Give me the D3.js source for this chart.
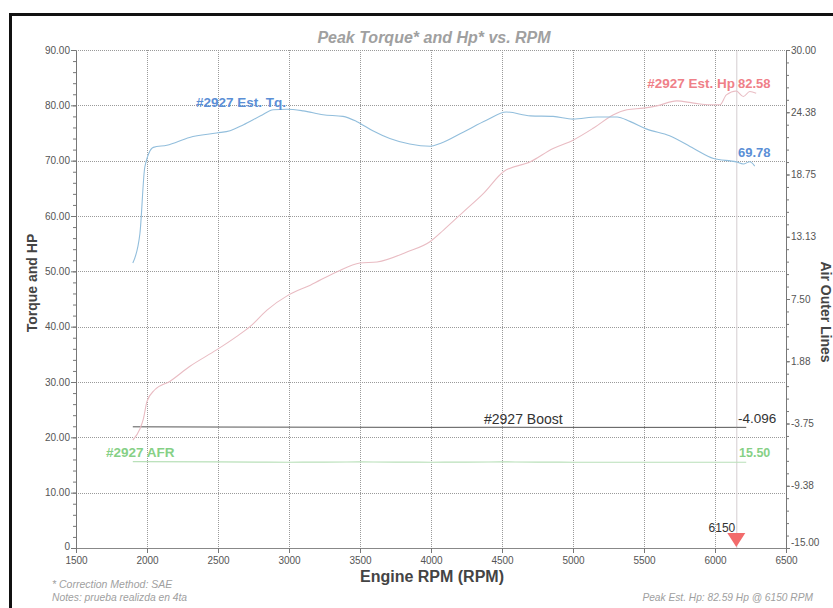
<!DOCTYPE html>
<html>
<head>
<meta charset="utf-8">
<script src="https://cdn.jsdelivr.net/npm/d3@7"></script>
<style>
  html, body { margin: 0; padding: 0; background: #fff; }
  svg { display: block; font-family: "Liberation Sans", Arial, sans-serif; }
</style>
</head>
<body>
<svg id="chart" width="833" height="608"></svg>
<script>
// Dyno run #2927: estimated torque / horsepower, boost and AFR vs. engine speed
const torqueRpm = [1900, 1950, 1985, 2045, 2140, 2300, 2490, 2585, 2680, 2800, 2890, 2985, 3100, 3240, 3380, 3475, 3590, 3710, 3850, 3995, 4065, 4230, 4390, 4530, 4700, 4860, 5000, 5170, 5310, 5400, 5520, 5680, 5850, 5990, 6150, 6200, 6245, 6280];
const torqueVals = [51.5, 56.8, 68.9, 72.4, 72.8, 74.2, 75.0, 75.4, 76.5, 78.1, 79.2, 79.3, 79.0, 78.3, 78.0, 77.1, 75.4, 74.0, 73.0, 72.6, 73.1, 75.2, 77.3, 78.8, 78.1, 78.0, 77.5, 77.9, 77.9, 77.1, 75.7, 74.5, 72.2, 70.4, 69.78, 69.4, 69.8, 69.0];

const hpRpm = [1900, 1950, 1975, 2000, 2055, 2160, 2300, 2490, 2630, 2725, 2845, 2995, 3150, 3335, 3500, 3620, 3830, 3995, 4090, 4230, 4370, 4510, 4700, 4860, 5000, 5145, 5285, 5380, 5495, 5590, 5730, 5850, 5965, 6035, 6080, 6150, 6200, 6245, 6290];
const hpVals = [19.5, 21.5, 23.4, 26.5, 28.6, 30.1, 32.8, 35.8, 38.2, 40.0, 43.0, 45.7, 47.5, 49.9, 51.5, 51.7, 53.5, 55.4, 57.5, 60.8, 64.1, 68.0, 69.8, 72.2, 73.7, 75.9, 78.3, 79.2, 79.5, 79.9, 80.8, 80.4, 80.1, 80.1, 81.9, 82.58, 81.6, 82.5, 82.2];

const boostRpm = [1900, 2500, 3000, 3500, 4000, 4500, 5000, 5500, 6000, 6150, 6220];
const boostVals = [-4.05, -4.07, -4.08, -4.09, -4.10, -4.09, -4.10, -4.10, -4.10, -4.096, -4.10];

const afrRpm = [1900, 2500, 3000, 3500, 4000, 4500, 5000, 5500, 6000, 6150, 6220];
const afrVals = [15.6, 15.55, 15.5, 15.55, 15.5, 15.55, 15.5, 15.5, 15.5, 15.50, 15.5];

const xTicks = [1500, 2000, 2500, 3000, 3500, 4000, 4500, 5000, 5500, 6000, 6500];
const leftTicks = [0, 10, 20, 30, 40, 50, 60, 70, 80, 90];
const leftTickLabels = ["0", "10.00", "20.00", "30.00", "40.00", "50.00", "60.00", "70.00", "80.00", "90.00"];
const rightTicks = [-15, -9.375, -3.75, 1.875, 7.5, 13.125, 18.75, 24.375, 30];
const rightTickLabels = ["-15.00", "-9.38", "-3.75", "1.88", "7.50", "13.13", "18.75", "24.38", "30.00"];

const peakRpm = 6150;
const peakHp = 82.59;

const svg = d3.select("#chart");
const W = 833, H = 608;
const m = { left: 76, right: 786, top: 50, bottom: 548 };

svg.append("rect").attr("width", W).attr("height", H).attr("fill", "#fff");

const x = d3.scaleLinear().domain([1500, 6500]).range([m.left, m.right]);
const yL = d3.scaleLinear().domain([0, 90]).range([m.bottom, m.top]);
const yR = d3.scaleLinear().domain([-15, 30]).range([m.bottom, m.top]);

// outer frame
svg.append("rect")
  .attr("x", 10.5).attr("y", 14.5).attr("width", 840).attr("height", 620)
  .attr("fill", "none").attr("stroke", "#111").attr("stroke-width", 3);

// gridlines
const grid = svg.append("g").attr("stroke", "#9a9a9a").attr("stroke-width", 1)
  .attr("stroke-dasharray", "1,1");
grid.selectAll("line.v").data(xTicks.slice(1, -1)).join("line")
  .attr("x1", d => x(d) + 0.5).attr("x2", d => x(d) + 0.5)
  .attr("y1", m.top).attr("y2", m.bottom);
grid.selectAll("line.h").data(leftTicks.slice(1)).join("line")
  .attr("x1", m.left).attr("x2", m.right)
  .attr("y1", d => Math.round(yL(d)) + 0.5).attr("y2", d => Math.round(yL(d)) + 0.5);

// cursor line at peak rpm
svg.append("line")
  .attr("x1", x(peakRpm) + 0.5).attr("x2", x(peakRpm) + 0.5)
  .attr("y1", m.top).attr("y2", m.bottom)
  .attr("stroke", "#d4cdd0").attr("stroke-width", 1);

// axes
const axisColor = "#777";
const gx = svg.append("g").attr("transform", `translate(0,${m.bottom})`)
  .call(d3.axisBottom(x).tickValues(d3.range(1500, 6501, 100)).tickSize(3).tickFormat(""));
gx.call(d3.axisBottom(x).tickValues(xTicks).tickSize(5).tickFormat(d3.format("d")));
gx.selectAll("path, line").attr("stroke", axisColor);
gx.selectAll("text").attr("fill", "#555").attr("font-size", 10).attr("dy", "0.9em")
  .attr("transform", "translate(0,-1)");
gx.select("path.domain").attr("stroke", "#888");

const gyl = svg.append("g").attr("transform", `translate(${m.left},0)`);
gyl.append("g").call(d3.axisLeft(yL).tickValues(d3.range(0, 90.1, 2)).tickSize(3).tickFormat(""));
gyl.append("g").call(d3.axisLeft(yL).tickValues(leftTicks).tickSize(5).tickPadding(1)
  .tickFormat((d, i) => leftTickLabels[i]));
gyl.selectAll("path, line").attr("stroke", axisColor);
gyl.selectAll("text").attr("fill", "#555").attr("font-size", 10);
// the zero label sits a little higher than the others
gyl.selectAll("text").filter(d => d === 0).attr("dy", "0.1em");

const gyr = svg.append("g").attr("transform", `translate(${m.right},0)`);
gyr.append("g").call(d3.axisRight(yR).tickValues(d3.range(-15, 30.01, 1.125)).tickSize(3).tickFormat(""));
gyr.append("g").call(d3.axisRight(yR).tickValues(rightTicks).tickSize(4).tickPadding(1)
  .tickFormat((d, i) => rightTickLabels[i]));
gyr.selectAll("path, line").attr("stroke", axisColor);
gyr.selectAll("text").attr("fill", "#555").attr("font-size", 10);
gyr.selectAll("text").filter(d => d === -15).attr("dy", "-0.3em");

// top border
svg.append("line").attr("x1", m.left).attr("x2", m.right)
  .attr("y1", m.top + 0.5).attr("y2", m.top + 0.5)
  .attr("stroke", "#999").attr("stroke-dasharray", "1,1");

// series
const lineL = (xs, ys) => d3.line().x((d, i) => x(xs[i])).y((d, i) => yL(ys[i])).curve(d3.curveMonotoneX)(ys);
const lineR = (xs, ys) => d3.line().x((d, i) => x(xs[i])).y((d, i) => yR(ys[i])).curve(d3.curveMonotoneX)(ys);

svg.append("path").attr("d", lineL(afrRpm, afrVals))
  .attr("fill", "none").attr("stroke", "#b9e0b9").attr("stroke-width", 1.2);
svg.append("path").attr("d", lineR(boostRpm, boostVals))
  .attr("fill", "none").attr("stroke", "#555").attr("stroke-width", 1);
svg.append("path").attr("d", lineL(hpRpm, hpVals))
  .attr("fill", "none").attr("stroke", "#e9bcc3").attr("stroke-width", 1.1);
svg.append("path").attr("d", lineL(torqueRpm, torqueVals))
  .attr("fill", "none").attr("stroke", "#92bedc").attr("stroke-width", 1.1);

// series labels
const lab = (t, px, py, color, opts = {}) => svg.append("text")
  .attr("x", px).attr("y", py).text(t)
  .attr("fill", color).attr("font-size", opts.size || 13.5)
  .attr("font-weight", opts.weight || "bold")
  .attr("text-anchor", opts.anchor || "start");

const tqEnd = torqueVals[torqueRpm.indexOf(peakRpm)];
const hpEnd = hpVals[hpRpm.indexOf(peakRpm)];
const boostEnd = boostVals[boostRpm.indexOf(peakRpm)];
const afrEnd = afrVals[afrRpm.indexOf(peakRpm)];

lab("#2927 Est. Tq.", 196, 107, "#5b8fd6");
lab("#2927 Est. Hp", 735, 88, "#ef8088", { anchor: "end" });
lab(hpEnd.toFixed(2), 738, 88, "#ef8088", { size: 13 });
lab(tqEnd.toFixed(2), 738, 157, "#5b8fd6", { size: 13 });
lab("#2927 Boost", 484, 424, "#333", { weight: "normal", size: 14 });
lab(boostEnd.toFixed(3), 738, 423, "#333", { weight: "normal", size: 13.5 });
lab("#2927 AFR", 106, 457, "#86d086");
lab(afrEnd.toFixed(2), 739, 457, "#86d086", { size: 12.5 });

// peak marker
const px = x(peakRpm);
svg.append("path")
  .attr("d", `M${px - 9},${m.bottom - 15} L${px + 9},${m.bottom - 15} L${px},${m.bottom - 1} Z`)
  .attr("fill", "#f26b6b");
lab(String(peakRpm), px - 1, 532, "#333", { weight: "normal", anchor: "end", size: 12 });

// titles
svg.append("text").attr("x", 434).attr("y", 43).attr("text-anchor", "middle")
  .attr("font-size", 16).attr("font-weight", "bold").attr("font-style", "italic")
  .attr("fill", "#a0a0a0").text("Peak Torque* and Hp* vs. RPM");

svg.append("text").attr("x", 432).attr("y", 582).attr("text-anchor", "middle")
  .attr("font-size", 16).attr("font-weight", "bold").attr("fill", "#444")
  .text("Engine RPM (RPM)");

svg.append("text").attr("transform", "translate(37,283) rotate(-90)")
  .attr("text-anchor", "middle").attr("font-size", 14).attr("font-weight", "bold")
  .attr("fill", "#444").text("Torque and HP");

svg.append("text").attr("transform", "translate(821,312) rotate(90)")
  .attr("text-anchor", "middle").attr("font-size", 14).attr("font-weight", "bold")
  .attr("fill", "#444").text("Air Outer Lines");

// footer notes
const note = (t, nx, ny, anchor, size) => svg.append("text").attr("x", nx).attr("y", ny)
  .attr("text-anchor", anchor).attr("font-size", size).attr("font-style", "italic")
  .attr("fill", "#a0a0a0").text(t);
note("* Correction Method: SAE", 52, 588, "start", 10.5);
note("Notes: prueba realizda en 4ta", 52, 601, "start", 10.3);
note(`Peak Est. Hp: ${peakHp.toFixed(2)} Hp @ ${peakRpm} RPM`, 813, 601, "end", 10.2);
</script>
</body>
</html>
